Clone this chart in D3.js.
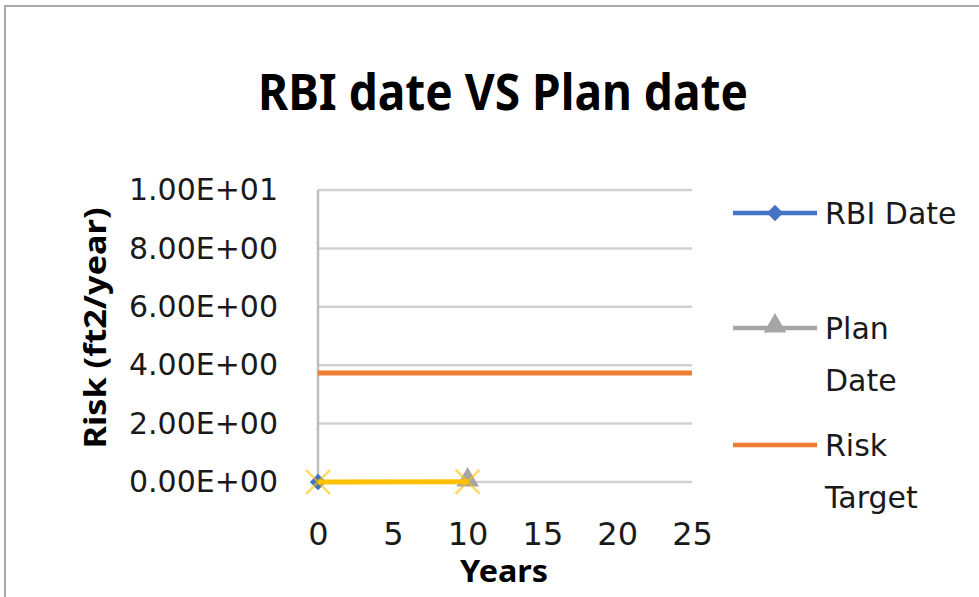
<!DOCTYPE html>
<html>
<head>
<meta charset="utf-8">
<script src="https://cdn.jsdelivr.net/npm/d3@7/dist/d3.min.js"></script>
<style>
  html, body { margin: 0; padding: 0; background: #ffffff; }
  svg { display: block; }
</style>
</head>
<body>
<svg id="chart" width="979" height="597"></svg>
<script>
// ---- data ----
const chartTitle = "RBI date VS Plan date";
const xTitle = "Years";
const yTitle = "Risk (ft2/year)";

const xTicks = [0, 5, 10, 15, 20, 25];
const yTicks = [0, 2, 4, 6, 8, 10];
const yTickLabels = ["0.00E+00", "2.00E+00", "4.00E+00", "6.00E+00", "8.00E+00", "1.00E+01"];

const rbiYears = [0];
const rbiRisk = [0];
const planYears = [10];
const planRisk = [0];
const targetYears = [0, 25];
const targetRisk = [3.73, 3.73];
const fourthYears = [0, 10];
const fourthRisk = [0, 0.01];

const legendNames = [["RBI Date"], ["Plan", "Date"], ["Risk", "Target"]];
const colors = { rbi: "#4472C4", plan: "#A5A5A5", target: "#ED7D31", fourth: "#FFC000" };

// ---- layout ----
const svg = d3.select("#chart");
const x = d3.scaleLinear().domain([0, 25]).range([318, 692]);
const y = d3.scaleLinear().domain([0, 10]).range([482, 190]);
const zip = (xs, ys) => xs.map((v, i) => ({ x: v, y: ys[i] }));

// outer frame
svg.append("path")
  .attr("d", "M5,597 V6 H979")
  .attr("fill", "none")
  .attr("stroke", "#a8a8a8")
  .attr("stroke-width", 2);

// title
svg.append("text")
  .attr("x", 503).attr("y", 110)
  .attr("text-anchor", "middle")
  .attr("font-family", "Noto Sans")
  .attr("font-weight", "bold")
  .attr("font-size", 50)
  .attr("textLength", 490)
  .attr("lengthAdjust", "spacingAndGlyphs")
  .attr("fill", "#000")
  .text(chartTitle);

// gridlines
svg.append("g")
  .selectAll("line")
  .data(yTicks)
  .join("line")
  .attr("x1", x(0)).attr("x2", x(25))
  .attr("y1", d => y(d)).attr("y2", d => y(d))
  .attr("stroke", "#d0d0d0")
  .attr("stroke-width", 2.5);

// y axis line
svg.append("line")
  .attr("x1", x(0)).attr("x2", x(0))
  .attr("y1", y(10)).attr("y2", y(0))
  .attr("stroke", "#bdbdbd")
  .attr("stroke-width", 2.5);

// axes labels via d3 axes
const yAxis = d3.axisLeft(y)
  .tickValues(yTicks)
  .tickSize(0)
  .tickPadding(40)
  .tickFormat((d, i) => yTickLabels[i]);
const gy = svg.append("g").attr("transform", `translate(${x(0)},0)`).call(yAxis);
gy.select(".domain").remove();
gy.selectAll("text")
  .attr("font-family", "DejaVu Sans")
  .attr("font-size", 30)
  .attr("fill", "#1a1a1a");

const xAxis = d3.axisBottom(x)
  .tickValues(xTicks)
  .tickSize(0)
  .tickPadding(40);
const gx = svg.append("g").attr("transform", `translate(0,${y(0)})`).call(xAxis);
gx.select(".domain").remove();
gx.selectAll("text")
  .attr("font-family", "DejaVu Sans")
  .attr("font-size", 32)
  .attr("fill", "#1a1a1a");

// axis titles
svg.append("text")
  .attr("x", 504).attr("y", 582)
  .attr("text-anchor", "middle")
  .attr("font-family", "Noto Sans")
  .attr("font-weight", "bold")
  .attr("font-size", 30)
  .attr("textLength", 88)
  .attr("lengthAdjust", "spacingAndGlyphs")
  .text(xTitle);

svg.append("text")
  .attr("transform", "translate(106,328) rotate(-90)")
  .attr("text-anchor", "middle")
  .attr("font-family", "Noto Sans")
  .attr("font-weight", "bold")
  .attr("font-size", 30)
  .attr("textLength", 241)
  .attr("lengthAdjust", "spacingAndGlyphs")
  .text(yTitle);

// series
const line = d3.line().x(d => x(d.x)).y(d => y(d.y));

svg.append("path")
  .datum(zip(targetYears, targetRisk))
  .attr("d", line)
  .attr("fill", "none")
  .attr("stroke", colors.target)
  .attr("stroke-width", 5);

const diamond = d3.symbol().type(d3.symbolDiamond2).size(170);
const triangle = d3.symbol().type(d3.symbolTriangle).size(220);
const cross = d3.symbol().type(d3.symbolX).size(380);

svg.append("g")
  .selectAll("path")
  .data(zip(rbiYears, rbiRisk))
  .join("path")
  .attr("d", diamond)
  .attr("transform", d => `translate(${x(d.x)},${y(d.y)})`)
  .attr("fill", colors.rbi);

svg.append("g")
  .selectAll("path")
  .data(zip(planYears, planRisk))
  .join("path")
  .attr("d", triangle)
  .attr("transform", d => `translate(${x(d.x)},${y(d.y) - 2})`)
  .attr("fill", colors.plan);

svg.append("path")
  .datum(zip(fourthYears, fourthRisk))
  .attr("d", line)
  .attr("fill", "none")
  .attr("stroke", colors.fourth)
  .attr("stroke-width", 5);

svg.append("g")
  .selectAll("path")
  .data(zip(fourthYears, fourthRisk))
  .join("path")
  .attr("d", cross)
  .attr("transform", d => `translate(${x(d.x)},${y(d.y)})`)
  .attr("fill", "none")
  .attr("stroke", colors.fourth)
  .attr("stroke-opacity", 0.6)
  .attr("stroke-width", 2.5);

// legend
const legendItems = [
  { key: "rbi", y: 213, marker: diamond },
  { key: "plan", y: 328, marker: triangle },
  { key: "target", y: 445, marker: null }
];
const lg = svg.append("g");
legendItems.forEach((item, i) => {
  lg.append("line")
    .attr("x1", 733).attr("x2", 817)
    .attr("y1", item.y).attr("y2", item.y)
    .attr("stroke", colors[item.key])
    .attr("stroke-width", 4.5);
  if (item.marker) {
    lg.append("path")
      .attr("d", item.marker)
      .attr("transform", `translate(775,${item.key === "plan" ? item.y - 2 : item.y})`)
      .attr("fill", colors[item.key]);
  }
  const t = lg.append("text")
    .attr("font-family", "DejaVu Sans")
    .attr("font-size", 30)
    .attr("fill", "#1a1a1a");
  legendNames[i].forEach((name, j) => {
    t.append("tspan")
      .attr("x", 825)
      .attr("y", item.y + 11 + j * 52)
      .text(name);
  });
});
</script>
</body>
</html>
